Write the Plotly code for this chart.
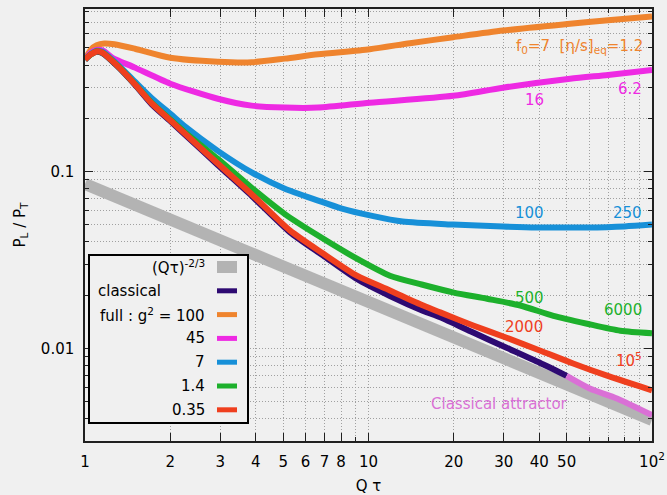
import math
import plotly.graph_objects as go

# ---------------- data ----------------
grey_qt = [1, 100]
grey_pl = [0.085, 0.00395]

classical_qt = [1, 1.05, 1.1, 1.15, 1.3, 1.5, 1.72, 2.0, 2.25, 2.94, 3.87, 5.28, 6.92, 9.1, 11.9, 15.6, 17.9, 23.4, 30.7, 40.2, 50]
classical_pl = [0.43, 0.46, 0.476, 0.468, 0.395, 0.31, 0.24, 0.193, 0.162, 0.109, 0.073, 0.0455, 0.0335, 0.0247, 0.0198, 0.0163, 0.015, 0.0123, 0.0101, 0.0083, 0.0070]

attractor_qt = [50, 60.3, 75.2, 100]
attractor_pl = [0.0070, 0.00594, 0.00522, 0.0042]

orange_qt = [1, 1.05, 1.1, 1.17, 1.27, 1.5, 2.0, 2.94, 3.87, 5.07, 6.64, 10.1, 14.0, 19.9, 29.8, 51.4, 70, 100]
orange_pl = [0.43, 0.49, 0.518, 0.53, 0.525, 0.495, 0.44, 0.418, 0.415, 0.435, 0.46, 0.492, 0.532, 0.575, 0.627, 0.685, 0.718, 0.752]

magenta_qt = [1, 1.05, 1.1, 1.16, 1.25, 1.5, 2.0, 2.94, 3.87, 5.07, 6.64, 10.1, 19.9, 29.8, 51.4, 70, 100]
magenta_pl = [0.43, 0.47, 0.487, 0.482, 0.44, 0.387, 0.314, 0.258, 0.236, 0.23, 0.23, 0.245, 0.268, 0.298, 0.335, 0.352, 0.375]

blue_qt = [1, 1.05, 1.1, 1.15, 1.3, 1.5, 1.72, 2.0, 2.25, 2.94, 3.87, 5.07, 6.64, 8.0, 10.3, 13.2, 19.9, 29.8, 39.4, 58.7, 80, 100]
blue_pl = [0.43, 0.462, 0.482, 0.476, 0.405, 0.322, 0.26, 0.212, 0.18, 0.131, 0.099, 0.08, 0.0686, 0.062, 0.0562, 0.0522, 0.0502, 0.0489, 0.0483, 0.0483, 0.049, 0.0502]

green_qt = [1, 1.05, 1.1, 1.15, 1.3, 1.5, 1.72, 2.0, 2.25, 2.94, 3.87, 5.07, 6.64, 9.1, 11.9, 15.4, 20.0, 26.2, 34.3, 44.9, 59.1, 77.3, 100]
green_pl = [0.43, 0.46, 0.479, 0.471, 0.398, 0.313, 0.245, 0.197, 0.167, 0.118, 0.081, 0.0575, 0.0435, 0.0322, 0.0258, 0.023, 0.0207, 0.0191, 0.0175, 0.0153, 0.0138, 0.0126, 0.0122]

red_qt = [1, 1.05, 1.1, 1.15, 1.3, 1.5, 1.72, 2.0, 2.25, 2.94, 3.87, 5.28, 6.92, 9.1, 11.9, 15.6, 17.9, 23.4, 30.7, 40.2, 52.7, 69, 100]
red_pl = [0.43, 0.46, 0.478, 0.47, 0.397, 0.312, 0.243, 0.195, 0.164, 0.111, 0.0745, 0.0465, 0.0344, 0.0258, 0.0213, 0.0175, 0.016, 0.0135, 0.0115, 0.00975, 0.00823, 0.00704, 0.0058]

legend_labels = ["(Qτ)<sup>-2/3</sup>", "classical", "full : g<sup>2</sup> = 100", "45", "7", "1.4", "0.35"]

x_tickvals = [1, 2, 3, 4, 5, 6, 7, 8, 10, 20, 30, 40, 50, 100]
x_ticktext = ["1", "2", "3", "4", "5", "6", "7", "8", "10", "20", "30", "40", "50", "10<sup>2</sup>"]
x_minor = [9, 60, 70, 80, 90]
y_tickvals = [0.01, 0.1]
y_ticktext = ["0.01", "0.1"]
y_minor = [0.003, 0.004, 0.005, 0.006, 0.007, 0.008, 0.009,
           0.02, 0.03, 0.04, 0.05, 0.06, 0.07, 0.08, 0.09,
           0.2, 0.3, 0.4, 0.5, 0.6, 0.7, 0.8]

# ---------------- style ----------------
C_GREY = "#b3b3b3"
C_CLASS = "#2e0a72"
C_ATTR = "#da70d6"
C_ORANGE = "#ef842e"
C_MAG = "#ee2ae3"
C_BLUE = "#1790d8"
C_GREEN = "#1db02c"
C_RED = "#ef3f1e"
FONT = "DejaVu Sans"
FS = 15
LW = 6

fig = go.Figure()

def add(x, y, color, width):
    fig.add_trace(go.Scatter(x=x, y=y, mode="lines",
                             line=dict(color=color, width=width, shape="spline", smoothing=0.7),
                             showlegend=False, hoverinfo="skip"))

add(grey_qt, grey_pl, C_GREY, 12)
add(classical_qt, classical_pl, C_CLASS, LW)
add(attractor_qt, attractor_pl, C_ATTR, LW)
add(orange_qt, orange_pl, C_ORANGE, LW)
add(magenta_qt, magenta_pl, C_MAG, LW)
add(blue_qt, blue_pl, C_BLUE, LW)
add(green_qt, green_pl, C_GREEN, LW)
add(red_qt, red_pl, C_RED, LW)

# ---------------- annotations (data coords, log10 for log axes) ----------------
def ann(x, y, text, color, xanchor="center"):
    fig.add_annotation(x=math.log10(x), y=math.log10(y), xref="x", yref="y", text=text,
                       showarrow=False, xanchor=xanchor, yanchor="middle",
                       font=dict(family=FONT, size=FS, color=color))

ann(94.5, 0.51, "f<sub>0</sub>=7  [η/s]<sub>eq</sub>=1.2", C_ORANGE, "right")
ann(38.4, 0.255, "16", C_MAG)
ann(94, 0.294, "6.2", C_MAG, "right")
ann(37.1, 0.058, "100", C_BLUE)
ann(94, 0.058, "250", C_BLUE, "right")
ann(37.1, 0.0193, "500", C_GREEN)
ann(94, 0.0164, "6000", C_GREEN, "right")
ann(35.4, 0.0132, "2000", C_RED)
ann(94, 0.0086, "10<sup>5</sup>", C_RED, "right")
ann(28.9, 0.00483, "Classical attractor", C_ATTR)

# ---------------- custom legend (paper coords) ----------------
L, R, T, B = 85, 15, 9, 54
W, H = 667, 495
PW, PH = W - L - R, H - T - B
def px(x): return (x - L) / PW
def py(y): return (H - B - y) / PH

fig.add_shape(type="rect", xref="paper", yref="paper",
              x0=px(89), x1=px(248), y0=py(423), y1=py(255),
              line=dict(color="black", width=2), fillcolor="#f0f0f0", layer="above")
legend_colors = [C_GREY, C_CLASS, C_ORANGE, C_MAG, C_BLUE, C_GREEN, C_RED]
for i, (lab, col) in enumerate(zip(legend_labels, legend_colors)):
    yy = 267 + 23.8 * i
    if lab == "classical":
        fig.add_annotation(x=px(96), y=py(yy), xref="paper", yref="paper", text=lab,
                           showarrow=False, xanchor="left", yanchor="middle",
                           font=dict(family=FONT, size=FS, color="black"))
    else:
        fig.add_annotation(x=px(207), y=py(yy), xref="paper", yref="paper", text=lab,
                           showarrow=False, xanchor="right", yanchor="middle",
                           font=dict(family=FONT, size=FS, color="black"))
    fig.add_shape(type="line", xref="paper", yref="paper",
                  x0=px(217), x1=px(237), y0=py(yy), y1=py(yy),
                  line=dict(color=col, width=12 if i == 0 else 5), layer="above")

grid = dict(showgrid=True, gridcolor="#a0a0a0", griddash="1px,2px", gridwidth=1)
fig.update_xaxes(type="log", range=[0, 2], tickmode="array", tickvals=x_tickvals, ticktext=x_ticktext,
                 ticks="inside", ticklen=8, tickcolor="#202020", showline=True, linecolor="#202020",
                 linewidth=1.5, mirror="allticks", zeroline=False,
                 tickfont=dict(family=FONT, size=FS, color="black"), ticklabelstandoff=6,
                 minor=dict(tickmode="array", tickvals=x_minor, ticks="inside", ticklen=4,
                            tickcolor="#202020", **grid),
                 title=dict(text="Q τ", font=dict(family=FONT, size=FS, color="black"), standoff=11),
                 **grid)
fig.update_yaxes(type="log", range=[math.log10(0.003), math.log10(0.83)], tickmode="array",
                 tickvals=y_tickvals, ticktext=y_ticktext,
                 ticks="inside", ticklen=8, tickcolor="#202020", showline=True, linecolor="#202020",
                 linewidth=1.5, mirror="allticks", zeroline=False,
                 tickfont=dict(family=FONT, size=FS, color="black"), ticklabelstandoff=6,
                 minor=dict(tickmode="array", tickvals=y_minor, ticks="inside", ticklen=4,
                            tickcolor="#202020", **grid),
                 title=dict(text="P<sub>L</sub> / P<sub>T</sub>", font=dict(family=FONT, size=FS, color="black"),
                            standoff=12),
                 **grid)

fig.update_layout(width=W, height=H, margin=dict(l=L, r=R, t=T, b=B, autoexpand=False),
                  paper_bgcolor="#f0f0f0", plot_bgcolor="#f0f0f0", showlegend=False,
                  font=dict(family=FONT, size=FS))

fig.write_html("out.html")
